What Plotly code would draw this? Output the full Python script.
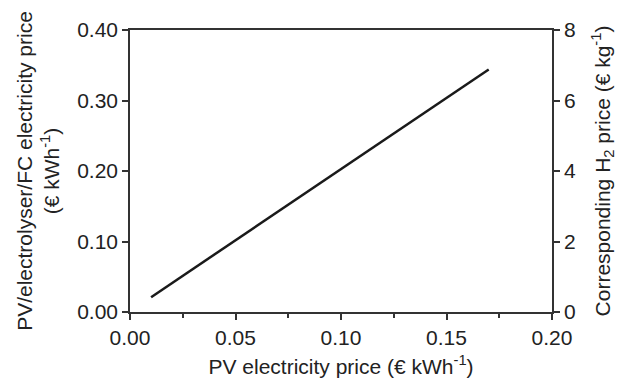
import plotly.graph_objects as go

# Data
pv_price = [0.01, 0.05, 0.10, 0.15, 0.17]            # PV electricity price (€/kWh)
sys_price = [0.021, 0.102, 0.203, 0.304, 0.344]      # PV/electrolyser/FC electricity price (€/kWh)
h2_price = [0.42, 2.04, 4.06, 6.08, 6.88]            # corresponding H2 price (€/kg)

x_ticks = [0.00, 0.05, 0.10, 0.15, 0.20]
y_ticks = [0.00, 0.10, 0.20, 0.30, 0.40]
y2_ticks = [0, 2, 4, 6, 8]

FONT = "Liberation Sans, Arial, sans-serif"
TXT = "#222222"
AX = "#333333"
FS = 21

fig = go.Figure()
fig.add_trace(go.Scatter(x=pv_price, y=sys_price, mode="lines",
                         line=dict(color="#1a1a1a", width=2.5),
                         showlegend=False, hoverinfo="skip"))
fig.add_trace(go.Scatter(x=pv_price, y=h2_price, mode="lines", yaxis="y2",
                         line=dict(color="rgba(0,0,0,0)", width=0),
                         showlegend=False, hoverinfo="skip"))

tickfont = dict(family=FONT, size=FS, color=TXT)
fig.update_layout(
    width=630, height=379,
    margin=dict(l=130, r=78, t=30, b=67),
    paper_bgcolor="white", plot_bgcolor="white",
    font=dict(family=FONT, color=TXT),
    xaxis=dict(range=[0, 0.2], tickvals=x_ticks, automargin=False,
               ticktext=[f"{v:.2f}" for v in x_ticks],
               showgrid=False, zeroline=False,
               showline=True, linecolor=AX, linewidth=1.5, mirror=True,
               ticks="outside", ticklen=6, tickwidth=1.5, tickcolor=AX,
               minor=dict(ticks="outside", dtick=0.025, tick0=0, ticklen=4,
                          tickwidth=1.5, tickcolor=AX, showgrid=False),
               tickfont=tickfont,
               title=dict(text="PV electricity price (€ kWh<sup>-1</sup>)",
                          font=dict(family=FONT, size=FS, color=TXT), standoff=11)),
    yaxis=dict(range=[0, 0.4], tickvals=y_ticks, automargin=False,
               ticktext=[f"{v:.2f}" for v in y_ticks],
               showgrid=False, zeroline=False,
               showline=True, linecolor=AX, linewidth=1.5,
               ticks="outside", ticklen=6, tickwidth=1.5, tickcolor=AX,
               tickfont=tickfont,
               title=dict(text="PV/electrolyser/FC electricity price<br>(€ kWh<sup>-1</sup>)",
                          font=dict(family=FONT, size=FS, color=TXT), standoff=12)),
    yaxis2=dict(range=[0, 8], tickvals=y2_ticks, overlaying="y", side="right",
                automargin=False,
                showgrid=False, zeroline=False,
                showline=True, linecolor=AX, linewidth=1.5,
                ticks="outside", ticklen=6, tickwidth=1.5, tickcolor=AX,
                tickfont=tickfont,
                title=dict(text="Corresponding H<sub>2</sub> price (€ kg<sup>-1</sup>)",
                           font=dict(family=FONT, size=FS, color=TXT), standoff=20)),
)

fig.write_html("out.html", config={"displayModeBar": False},
               post_script="document.body.style.margin='0';")
